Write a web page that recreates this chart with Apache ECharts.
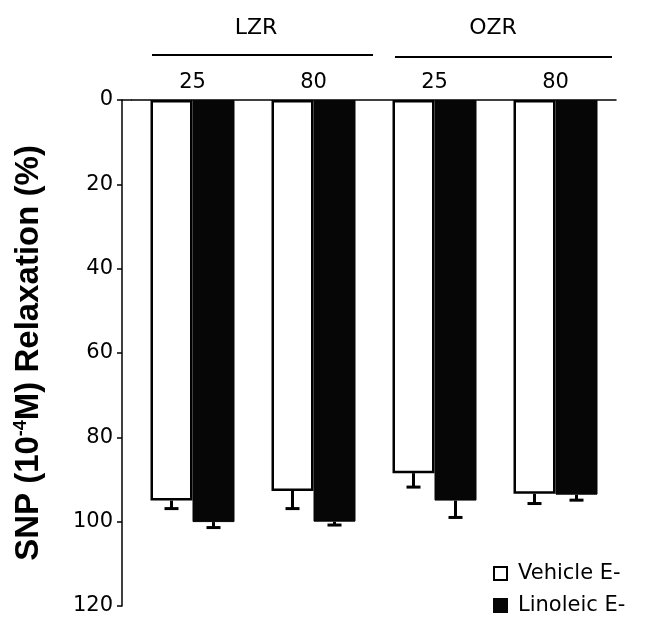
<!DOCTYPE html>
<html>
<head>
<meta charset="utf-8">
<script src="https://cdn.jsdelivr.net/npm/echarts@6/dist/echarts.min.js"></script>
<style>
  html, body { margin: 0; padding: 0; background: #fff; }
  #chart { width: 648px; height: 624px; }
</style>
</head>
<body>
<div id="chart"></div>
<script>
// doses per strain, read left to right
const categories = ['25', '80', '25', '80']
const groups = ['LZR', 'OZR']
const vehicle = [95.0, 92.7, 88.5, 93.4]
const vehicleErr = [1.9, 4.2, 3.3, 2.3]
const linoleic = [100.1, 100.0, 95.0, 93.6]
const linoleicErr = [1.3, 0.8, 4.0, 1.3]
const yMin = 0
const yMax = 120
const yStep = 20

const font = 'DejaVu Sans'
const barW = 42
const gridLeft = 132
const gridTop = 100

function errBars(offset) {
  return (params, api) => {
    const i = api.value(0)
    const v = api.value(1)
    const e = api.value(2)
    const p0 = api.coord([i, v])
    const p1 = api.coord([i, v + e])
    const x = p0[0] + offset
    return {
      type: 'group',
      children: [
        { type: 'line', shape: { x1: x, y1: p0[1], x2: x, y2: p1[1] }, style: { stroke: '#000', lineWidth: 3 } },
        { type: 'line', shape: { x1: x - 7, y1: p1[1], x2: x + 7, y2: p1[1] }, style: { stroke: '#000', lineWidth: 3 } }
      ]
    }
  }
}

function legendItem(name, top) {
  return {
    left: 493,
    top: top,
    padding: 0,
    itemWidth: 13,
    itemHeight: 13,
    icon: 'rect',
    textStyle: { fontFamily: font, fontSize: 21, color: '#000', padding: [0, 0, 0, 6] },
    data: [name]
  }
}

const chart = echarts.init(document.getElementById('chart'))
chart.setOption({
  animation: false,
  textStyle: { fontFamily: font, color: '#000' },
  grid: { left: gridLeft, right: 32, top: gridTop, bottom: 18 },
  legend: [legendItem('Vehicle E-', 563), legendItem('Linoleic E-', 595)],
  xAxis: {
    type: 'category',
    position: 'top',
    data: categories,
    axisLine: { lineStyle: { color: '#000', width: 1.5 } },
    axisTick: { length: 5, lineStyle: { color: '#000', width: 1.5 } },
    axisLabel: { fontSize: 21, color: '#000', margin: 7 }
  },
  yAxis: {
    type: 'value',
    inverse: true,
    min: yMin,
    max: yMax,
    interval: yStep,
    offset: 10,
    splitLine: { show: false },
    axisLine: { show: true, lineStyle: { color: '#000', width: 1.5 } },
    axisTick: { show: true, length: 5, lineStyle: { color: '#000', width: 1.5 } },
    axisLabel: { fontSize: 21, color: '#000', margin: 9 },
    name: '{a|SNP (10}{s|-4}{a|M) Relaxation (%)}',
    nameLocation: 'middle',
    nameGap: 76,
    nameTextStyle: {
      rich: {
        a: { fontFamily: 'Liberation Sans', fontWeight: 'bold', fontSize: 33, color: '#000' },
        s: { fontFamily: 'Liberation Sans', fontWeight: 'bold', fontSize: 18, color: '#000', padding: [0, 0, 16, 0] }
      }
    }
  },
  graphic: [
    { type: 'line', shape: { x1: gridLeft - 10, y1: gridTop, x2: gridLeft, y2: gridTop }, style: { stroke: '#000', lineWidth: 1.5 } },
    { type: 'line', shape: { x1: 152, y1: 55, x2: 373, y2: 55 }, style: { stroke: '#000', lineWidth: 2 } },
    { type: 'line', shape: { x1: 395, y1: 57, x2: 612, y2: 57 }, style: { stroke: '#000', lineWidth: 2 } },
    { type: 'text', x: 256, y: 28, style: { text: groups[0], fontFamily: font, fontSize: 22, fill: '#000', align: 'center', verticalAlign: 'middle' } },
    { type: 'text', x: 493, y: 28, style: { text: groups[1], fontFamily: font, fontSize: 22, fill: '#000', align: 'center', verticalAlign: 'middle' } }
  ],
  series: [
    {
      name: 'Vehicle E-',
      type: 'bar',
      barWidth: barW,
      barGap: '0%',
      data: vehicle,
      itemStyle: { color: '#fff', borderColor: '#000', borderWidth: 2.5 }
    },
    {
      name: 'Linoleic E-',
      type: 'bar',
      barWidth: barW,
      barGap: '0%',
      data: linoleic,
      itemStyle: { color: '#060606', borderColor: '#060606', borderWidth: 1 }
    },
    {
      type: 'custom',
      renderItem: errBars(-barW / 2),
      data: vehicle.map((v, i) => [i, v, vehicleErr[i]]),
      z: 5
    },
    {
      type: 'custom',
      renderItem: errBars(barW / 2),
      data: linoleic.map((v, i) => [i, v, linoleicErr[i]]),
      z: 5
    }
  ]
})
</script>
</body>
</html>
